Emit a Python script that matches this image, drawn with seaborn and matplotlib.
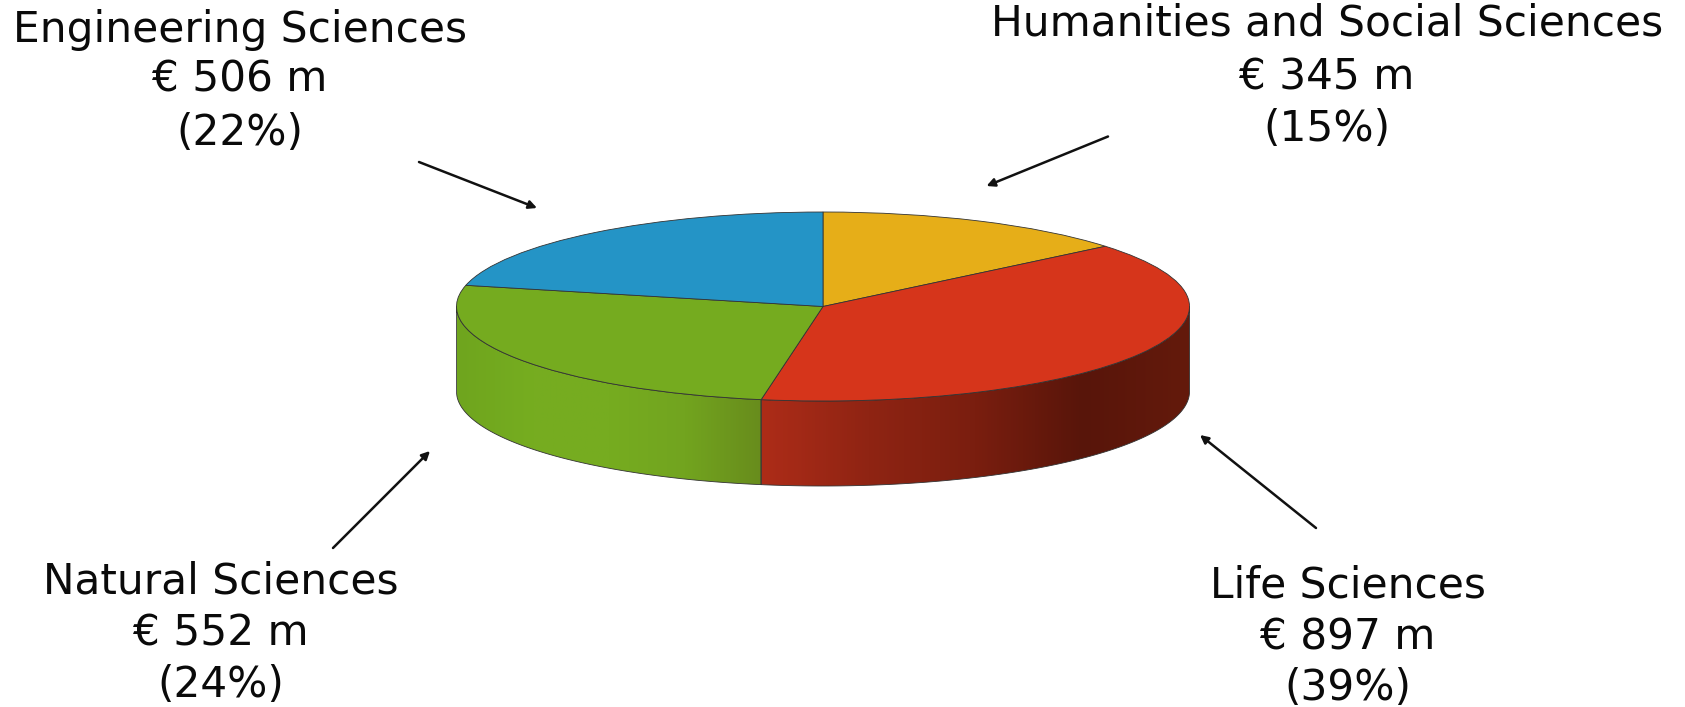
import numpy as np
import matplotlib
matplotlib.use("Agg")
import matplotlib.pyplot as plt
from matplotlib.colors import LinearSegmentedColormap
from matplotlib.patches import Polygon
import seaborn as sns

# Printed labels
fields = ["Humanities and Social Sciences", "Life Sciences", "Natural Sciences", "Engineering Sciences"]
amounts_m = [345, 897, 552, 506]
percents = [15, 39, 24, 22]
# Slice sizes as drawn in the source picture (%): its 3D rendering departs a little from the printed shares
drawn_shares = [14.0, 38.7, 25.9, 21.4]
top_colors = ["#E6AE18", "#D6351B", "#75AB1F", "#2494C6"]
# Side-wall shading, from left to right, for the two visible walls
wall_shades = {
    "Life Sciences": ["#AD2C18", "#8F2413", "#7A1E0F", "#58150A", "#641A0C"],
    "Natural Sciences": ["#6FA51E", "#76AD20", "#76AC20", "#72A41F", "#688C1C"],
}

W, H = 1685, 707
sns.set_theme(style="white")
plt.rcParams["font.family"] = ["DejaVu Sans"]
fig = plt.figure(figsize=(W / 100, H / 100), dpi=100, facecolor="white")

# Overlay in pixel units for captions and arrows
over = fig.add_axes([0, 0, 1, 1], zorder=3)
over.set_xlim(0, W)
over.set_ylim(H, 0)
over.axis("off")
over.patch.set_alpha(0)

# Pie axes: radius 1 maps onto the ellipse of the top face
x0, x1, y0, y1 = 456.5, 1189.5, 212, 401
ax = fig.add_axes([x0 / W, 1 - y1 / H, (x1 - x0) / W, (y1 - y0) / H], zorder=2)
palette = sns.color_palette(top_colors)
wedges, _ = ax.pie(drawn_shares, colors=palette, startangle=90, counterclock=False,
                   radius=1, frame=False,
                   wedgeprops=dict(edgecolor="#333333", linewidth=0.6, zorder=5))
ax.set_aspect("auto")
ax.axis("off")

depth = 85 / ((y1 - y0) / 2)
for name, w in zip(fields, wedges):
    t1, t2 = max(w.theta1, -180), min(w.theta2, 0)
    if t2 <= t1 or name not in wall_shades:
        continue
    t = np.radians(np.linspace(t1, t2, 200))
    xs, ys = np.cos(t), np.sin(t)
    verts = np.vstack([np.c_[xs, ys], np.c_[xs[::-1], ys[::-1] - depth]])
    poly = Polygon(verts, closed=True, facecolor="none", edgecolor="#333333",
                   linewidth=0.6, transform=ax.transData, clip_on=False, zorder=3)
    ax.add_patch(poly)
    cmap = LinearSegmentedColormap.from_list(name, wall_shades[name])
    im = ax.imshow(np.linspace(0, 1, 256)[None, :], cmap=cmap, aspect="auto",
                   extent=(xs.min(), xs.max(), -1 - depth, 1), zorder=2)
    im.set_clip_box(fig.bbox)
    im.set_clip_path(poly)
ax.set_aspect("auto")
ax.set_xlim(-1, 1)
ax.set_ylim(-1, 1)

# Captions
caption_xy = {
    "Engineering Sciences": (240, 30, 79, 133),
    "Humanities and Social Sciences": (1327, 23.5, 77, 129),
    "Natural Sciences": (221, 582, 634, 685),
    "Life Sciences": (1347.5, 585, 637, 688),
}
for name, amt, pct in zip(fields, amounts_m, percents):
    cx, a, b, c = caption_xy[name]
    for yy, s in zip((a, b, c), (name, f"€ {amt} m", f"({pct}%)")):
        over.text(cx, yy, s, ha="center", va="center", fontsize=30.4, color="#0a0a0a")

# Arrows
arrows = [((419, 162), (537, 208)), ((1108, 136.5), (986.5, 186)),
          ((333, 548), (430, 451)), ((1316, 528), (1200, 435))]
for start, end in arrows:
    over.annotate("", xy=end, xytext=start,
                  arrowprops=dict(arrowstyle="-|>", color="#111111", lw=1.8,
                                  mutation_scale=12, shrinkA=0, shrinkB=0))

fig.savefig("out.png", dpi=100, facecolor="white")
